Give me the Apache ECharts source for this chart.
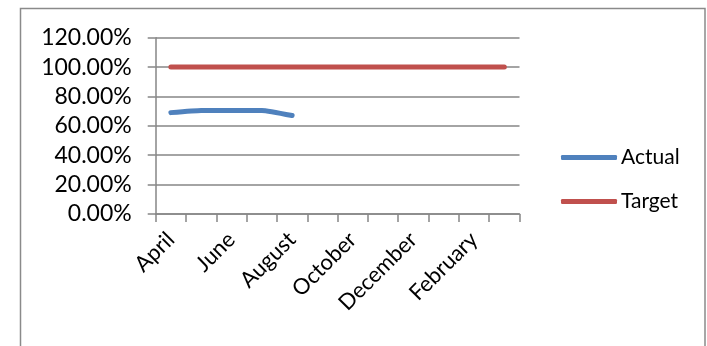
<!DOCTYPE html>
<html>
<head>
<meta charset="utf-8">
<script src="https://cdn.jsdelivr.net/npm/echarts@6/dist/echarts.min.js"></script>
<style>
  html, body { margin: 0; padding: 0; background: #fff; }
  #chart { width: 707px; height: 346px; }
</style>
</head>
<body>
<div id="chart"></div>
<script>
// Financial-year months, April through March
const months = ['April', 'May', 'June', 'July', 'August', 'September',
  'October', 'November', 'December', 'January', 'February', 'March'];
// Achievement as a fraction; only the first months have been reported
const actual = [0.69, 0.705, 0.705, 0.705, 0.67];
const target = [1, 1, 1, 1, 1, 1, 1, 1, 1, 1, 1, 1];
const seriesNames = ['Actual', 'Target'];
const seriesColors = ['#4F81BD', '#C0504D'];

const FONT = 'Lato, "Open Sans", sans-serif';
const GRAY = '#868686';

const chart = echarts.init(document.getElementById('chart'), null, { renderer: 'canvas' });

chart.setOption({
  animation: false,
  backgroundColor: '#fff',
  graphic: [{
    type: 'rect',
    shape: { x: 20.5, y: 8.5, width: 684.5, height: 400 },
    style: { fill: 'none', stroke: '#8a8a8a', lineWidth: 1.5 },
    silent: true
  }],
  grid: { left: 155.7, right: 187.5, top: 37.7, bottom: 132 },
  legend: {
    orient: 'vertical',
    left: 561,
    top: 147,
    padding: 0,
    itemWidth: 56,
    itemHeight: 5,
    itemGap: 23,
    textStyle: { fontFamily: FONT, fontSize: 21, color: '#000', lineHeight: 20, padding: [0, 0, 0, -1] },
    data: seriesNames.map((n, i) => ({ name: n, icon: 'roundRect', itemStyle: { color: seriesColors[i] } }))
  },
  xAxis: {
    type: 'category',
    data: months,
    boundaryGap: true,
    axisLine: { lineStyle: { color: GRAY, width: 1.5 } },
    axisTick: { show: true, inside: false, length: 8, interval: 0, lineStyle: { color: GRAY, width: 1.5 } },
    axisLabel: {
      interval: 1, rotate: 45, margin: 22,
      fontFamily: FONT, fontSize: 22, color: '#000'
    },
    splitLine: { show: false }
  },
  yAxis: {
    type: 'value',
    min: 0, max: 1.2, interval: 0.2,
    axisLine: { show: true, lineStyle: { color: GRAY, width: 1.5 } },
    axisTick: { show: true, inside: false, length: 8, lineStyle: { color: GRAY, width: 1.5 } },
    axisLabel: {
      margin: 24,
      fontFamily: FONT, fontSize: 23, color: '#000',
      formatter: v => (v * 100).toFixed(2) + '%'
    },
    splitLine: { show: true, lineStyle: { color: GRAY, width: 1.5 } }
  },
  series: [
    {
      name: seriesNames[0], type: 'line', data: actual,
      symbol: 'none', smooth: 0.15,
      lineStyle: { color: seriesColors[0], width: 5, cap: 'round', join: 'round' },
      itemStyle: { color: seriesColors[0] }
    },
    {
      name: seriesNames[1], type: 'line', data: target,
      symbol: 'none',
      lineStyle: { color: seriesColors[1], width: 5, cap: 'round', join: 'round' },
      itemStyle: { color: seriesColors[1] }
    }
  ]
});
</script>
</body>
</html>
